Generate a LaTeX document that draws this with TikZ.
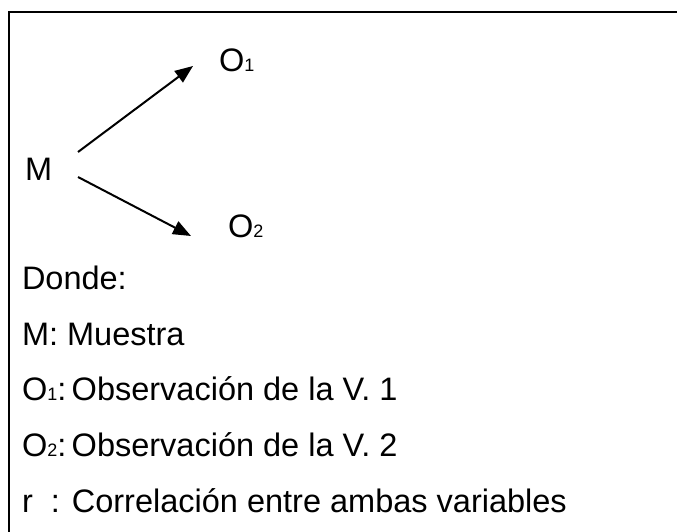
\documentclass[tikz,border=0pt]{standalone}
\usepackage{fontspec}
\setmainfont{Liberation Sans}
\usetikzlibrary{arrows.meta}
\newcommand{\sub}[1]{{\fontsize{18}{18}\selectfont #1}}
\begin{document}
\begin{tikzpicture}[x=1pt,y=-1pt,
  txt/.style={anchor=base west,inner sep=0pt,outer sep=0pt,font=\fontsize{32.5}{32.5}\selectfont},
  arr/.style={line width=2pt,-{Triangle[length=18pt,width=14pt]}}]
\useasboundingbox (0,0) rectangle (677,532);
\draw[line width=2.8pt] (9,540) -- (9,12) -- (690,12);
\node[txt] (M) at (25,180) {M};
\node[txt] (O1) at (219,72) {O\sub{1}};
\node[txt] (O2) at (228,237) {O\sub{2}};
\coordinate (a1s) at (78,152);
\coordinate (a1e) at (193,66);
\coordinate (a2s) at (78,177);
\coordinate (a2e) at (191,236);
\draw[arr] (a1s) -- (a1e);
\draw[arr] (a2s) -- (a2e);
\node[txt] (l1) at (22,289) {Donde:};
\node[txt] (l2) at (22,345) {M: Muestra};
\node[txt] (l3) at (22,400) {O\sub{1}:\,Observación de la V. 1};
\node[txt] (l4) at (22,456) {O\sub{2}:\,Observación de la V. 2};
\node[txt] (l5) at (22,512) {r\hspace{18pt}: Correlación entre ambas variables};
\end{tikzpicture}
\end{document}
